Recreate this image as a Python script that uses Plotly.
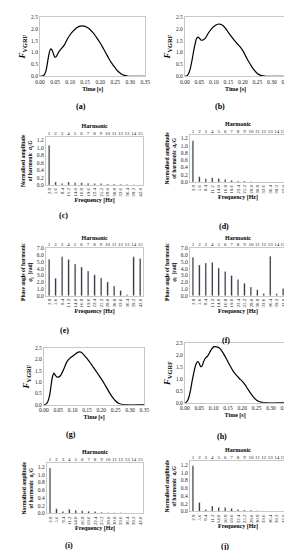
import plotly.graph_objects as go

W, H = 292, 550
FONT = "Liberation Serif"

# ---------------- data ----------------
freqs = ["2.8", "5.6", "8.4", "11.2", "14.0", "16.8", "19.6", "22.4", "25.2", "28.0",
         "30.8", "33.6", "36.4", "39.2", "42.0"]
harmonics = [str(i) for i in range(1, 16)]

time_a = [0.0, 0.01, 0.015, 0.02, 0.025, 0.03, 0.035, 0.04, 0.045, 0.05, 0.055, 0.06, 0.07, 0.08, 0.09,
          0.10, 0.11, 0.12, 0.13, 0.14, 0.15, 0.16, 0.17, 0.18, 0.19, 0.20, 0.21, 0.22, 0.23,
          0.24, 0.25, 0.26, 0.27, 0.28, 0.29, 0.30, 0.35]
vgrf_a = [0.0, 0.02, 0.08, 0.25, 0.6, 0.95, 1.15, 1.1, 0.93, 0.8, 0.85, 0.98, 1.15, 1.3, 1.55,
          1.75, 1.9, 2.02, 2.1, 2.12, 2.1, 2.03, 1.92, 1.78, 1.6, 1.4, 1.18, 0.95, 0.72,
          0.52, 0.35, 0.2, 0.1, 0.04, 0.01, 0.0, 0.0]

time_b = [0.0, 0.005, 0.01, 0.015, 0.02, 0.025, 0.03, 0.035, 0.04, 0.045, 0.05, 0.055, 0.06, 0.07,
          0.08, 0.09, 0.10, 0.11, 0.12, 0.13, 0.14, 0.15, 0.16, 0.17, 0.18, 0.19, 0.20, 0.21,
          0.22, 0.23, 0.24, 0.25, 0.26, 0.27, 0.28, 0.35]
vgrf_b = [0.0, 0.01, 0.06, 0.18, 0.4, 0.7, 1.05, 1.35, 1.58, 1.65, 1.6, 1.53, 1.52, 1.6,
          1.8, 1.98, 2.1, 2.18, 2.2, 2.15, 2.02, 1.85, 1.68, 1.52, 1.38, 1.25, 1.08, 0.85,
          0.62, 0.42, 0.25, 0.12, 0.05, 0.015, 0.0, 0.0]

time_g = [0.0, 0.005, 0.01, 0.015, 0.02, 0.025, 0.03, 0.035, 0.04, 0.045, 0.05, 0.055, 0.06, 0.07,
          0.08, 0.09, 0.10, 0.11, 0.12, 0.125, 0.13, 0.14, 0.15, 0.16, 0.17, 0.18, 0.19, 0.20,
          0.21, 0.22, 0.23, 0.24, 0.25, 0.26, 0.27, 0.28, 0.35]
vgrf_g = [0.0, 0.01, 0.06, 0.18, 0.42, 0.85, 1.25, 1.4, 1.3, 1.23, 1.22, 1.25, 1.33, 1.6,
          1.9, 2.05, 2.15, 2.25, 2.33, 2.34, 2.32, 2.2, 2.05, 1.88, 1.7, 1.52, 1.33, 1.14,
          0.94, 0.72, 0.5, 0.31, 0.16, 0.06, 0.02, 0.0, 0.0]

time_h = [0.0, 0.005, 0.01, 0.015, 0.02, 0.025, 0.03, 0.035, 0.04, 0.045, 0.05, 0.055, 0.06, 0.065,
          0.07, 0.08, 0.09, 0.10, 0.11, 0.12, 0.13, 0.14, 0.15, 0.16, 0.17, 0.18, 0.19, 0.20,
          0.21, 0.22, 0.23, 0.24, 0.25, 0.26, 0.27, 0.28, 0.35]
vgrf_h = [0.0, 0.02, 0.1, 0.28, 0.55, 0.9, 1.2, 1.48, 1.66, 1.73, 1.65, 1.52, 1.55, 1.72,
          1.85, 1.98, 2.2, 2.35, 2.35, 2.3, 2.15, 1.95, 1.72, 1.5, 1.3, 1.15, 1.02, 0.9,
          0.75, 0.56, 0.38, 0.22, 0.1, 0.04, 0.01, 0.0, 0.0]

amp_c = [1.07, 0.08, 0.04, 0.08, 0.06, 0.06, 0.05, 0.04, 0.04, 0.03, 0.03, 0.02, 0.015, 0.01, 0.005]
amp_d = [1.13, 0.15, 0.09, 0.12, 0.10, 0.07, 0.05, 0.03, 0.03, 0.01, 0.005, 0.005, 0.003, 0.003, 0.002]
phase_e = [5.4, 2.6, 5.75, 5.35, 4.7, 4.25, 3.65, 3.1, 2.65, 2.05, 1.45, 0.8, 0.15, 5.75, 5.5]
phase_f = [5.7, 4.55, 4.85, 4.9, 4.1, 3.6, 3.0, 2.4, 1.85, 1.3, 0.9, 0.35, 5.85, 0.3, 1.1]
amp_i = [1.17, 0.12, 0.05, 0.11, 0.08, 0.07, 0.06, 0.05, 0.03, 0.02, 0.02, 0.02, 0.01, 0.01, 0.005]
amp_j = [1.18, 0.23, 0.05, 0.14, 0.10, 0.10, 0.08, 0.05, 0.04, 0.03, 0.02, 0.01, 0.005, 0.003, 0.002]

time_ticks = [0.0, 0.05, 0.10, 0.15, 0.20, 0.25, 0.30, 0.35]

# ---------------- layout helpers ----------------
def fx(x):
    return x / W

def fy(y):
    return 1 - y / H

AX_COL = "#c8c8c8"
TICKFONT = dict(family=FONT, size=5.5, color="#222222")
CATFONT = dict(family=FONT, size=5, color="#222222")
TITLEFONT = dict(family=FONT, size=6, color="black")

fig = go.Figure()
layout = dict(width=W, height=H, margin=dict(l=0, r=0, t=0, b=0),
              paper_bgcolor="white", plot_bgcolor="white", showlegend=False,
              font=dict(family=FONT, color="black"))
annotations = []

def ann(text, x, y, size=8):
    annotations.append(dict(text="<b>%s</b>" % text,
                            x=fx(x), y=fy(y), xref="paper", yref="paper",
                            showarrow=False,
                            font=dict(family=FONT, size=size, color="black"),
                            xanchor="center", yanchor="middle"))

time_panels = [
    ("a", 28, 137, 6, 66, time_a, vgrf_a, 97, 70),
    ("b", 178, 283, 6, 66, time_b, vgrf_b, 97, 214),
    ("g", 32, 136, 341, 398, time_g, vgrf_g, 428, 60),
    ("h", 178, 282, 336, 396, time_h, vgrf_h, 430, 216),
]
bar_panels = [
    ("c", 34, 135, 127, 176, amp_c, "amp", 207, 52),
    ("d", 183, 283, 125, 173, amp_d, "amp", 218, 218),
    ("e", 34, 135, 240, 288, phase_e, "phase", 323, 53),
    ("f", 183, 283, 240, 288, phase_f, "phase", 333, 221),
    ("i", 35, 135, 457, 508, amp_i, "amp", 540, 58),
    ("j", 183, 283, 455, 506, amp_j, "amp", 541, 220),
]

common = dict(showgrid=False, zeroline=False, showline=True, linecolor=AX_COL,
              mirror=True, ticks="")

n = 0
for lab, x0, x1, yt, yb, tx, ty, lab_y, lab_x in time_panels:
    n += 1
    xa, ya = "x%d" % n, "y%d" % n
    fig.add_trace(go.Scatter(x=tx, y=ty, mode="lines", xaxis=xa, yaxis=ya,
                             line=dict(color="black", width=1.2, shape="spline", smoothing=0.8),
                             hoverinfo="skip"))
    layout["xaxis%d" % n] = dict(domain=[fx(x0), fx(x1)], anchor=ya, range=[0, 0.35],
                                 tickmode="array", tickvals=time_ticks, tickformat=".2f",
                                 tickfont=TICKFONT,
                                 title=dict(text="<b>Time [s]</b>", font=TITLEFONT, standoff=2),
                                 **common)
    layout["yaxis%d" % n] = dict(domain=[fy(yb), fy(yt)], anchor=xa, range=[0, 2.5],
                                 tickmode="linear", tick0=0, dtick=0.5, tickformat=".1f",
                                 tickfont=TICKFONT,
                                 title=dict(text="<b><i>F</i><sub>VGRF</sub></b>",
                                            font=dict(family=FONT, size=9, color="black"),
                                            standoff=3),
                                 **common)
    ann("(%s)" % lab, lab_x, lab_y)

top_n = 20
for lab, x0, x1, yt, yb, vals, kind, lab_y, lab_x in bar_panels:
    n += 1
    top_n += 1
    xa, ya, xt = "x%d" % n, "y%d" % n, "x%d" % top_n
    fig.add_trace(go.Bar(x=freqs, y=vals, xaxis=xa, yaxis=ya, marker_color="black",
                         width=0.22, hoverinfo="skip"))
    fig.add_trace(go.Scatter(x=harmonics, y=[0] * len(harmonics), xaxis=xt, yaxis=ya,
                             mode="markers", marker=dict(opacity=0), hoverinfo="skip"))
    if kind == "amp":
        yr, dt, ttl = [0, 1.3], 0.2, "<b>Normalised amplitude<br>of harmonic  <i>a<sub>i</sub></i>/<i>G</i></b>"
    else:
        yr, dt, ttl = [0, 7.0], 1.0, "<b>Phase angle of harmonic<br><i>φ<sub>i</sub></i>  [rad]</b>"
    layout["xaxis%d" % n] = dict(domain=[fx(x0), fx(x1)], anchor=ya, type="category",
                                 range=[-0.5, 14.5], tickmode="linear", tick0=0, dtick=1,
                                 tickangle=-90, tickfont=CATFONT,
                                 title=dict(text="<b>Frequency [Hz]</b>", font=TITLEFONT, standoff=1),
                                 **common)
    top = dict(common)
    top.update(showline=False, mirror=False)
    layout["xaxis%d" % top_n] = dict(overlaying=xa, anchor=ya, side="top", type="category",
                                     range=[-0.5, 14.5], tickmode="linear", tick0=0, dtick=1,
                                     tickangle=0, tickfont=CATFONT,
                                     title=dict(text="<b>Harmonic</b>", font=TITLEFONT, standoff=1),
                                     **top)
    layout["yaxis%d" % n] = dict(domain=[fy(yb), fy(yt)], anchor=xa, range=yr,
                                 tickmode="linear", tick0=0, dtick=dt, tickformat=".1f",
                                 tickfont=TICKFONT,
                                 title=dict(text=ttl, font=dict(family=FONT, size=5.5, color="black"),
                                            standoff=3),
                                 **common)
    ann("(%s)" % lab, lab_x, lab_y)

layout["annotations"] = annotations
layout["bargap"] = 0.7
fig.update_layout(**layout)
fig.write_html("out.html")
